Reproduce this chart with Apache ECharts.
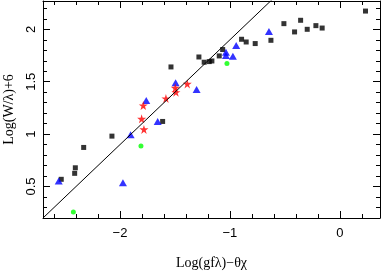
<!DOCTYPE html>
<html><head><meta charset="utf-8">
<script src="https://cdn.jsdelivr.net/npm/echarts@6/dist/echarts.min.js"></script>
<style>html,body{margin:0;padding:0;background:#fff}#c{width:382px;height:273px}</style>
</head><body><div id="c"></div>
<script>
// Data
const blackSquares = [[-2.534,0.569],[-2.406,0.679],[-2.412,0.626],[-2.33,0.873],[-2.073,0.981],[-1.612,1.121],[-1.536,1.641],[-1.282,1.736],[-1.234,1.686],[-1.188,1.692],[-1.164,1.698],[-1.097,1.746],[-1.066,1.807],[-0.894,1.905],[-0.852,1.879],[-0.770,1.864],[-0.627,1.895],[-0.509,2.054],[-0.412,1.975],[-0.357,2.086],[-0.297,2.0],[-0.218,2.035],[-0.161,2.012],[0.233,2.174]];
const blueTriangles = [[-2.557,0.552],[-1.973,0.536],[-1.903,0.993],[-1.761,1.321],[-1.657,1.121],[-1.494,1.489],[-1.303,1.426],[-1.036,1.781],[-1.036,1.749],[-0.973,1.743],[-0.943,1.845],[-0.645,1.978]];
const redStars = [[-1.782,1.045],[-1.803,1.146],[-1.788,1.273],[-1.582,1.340],[-1.497,1.441],[-1.491,1.400],[-1.388,1.479]];
const greenDots = [[-2.424,0.257],[-1.809,0.886],[-1.027,1.673]];
const fitSlope = 1.0;
const fitIntercept = 2.9;

const xMin = -2.7, xMax = 0.365, yMin = 0.2, yMax = 2.27;
const xMajorLabels = [-2, -1, 0];
const yMajorLabels = [0.5, 1, 1.5, 2];
// tick start values and steps
const xMajorStart = -2, xMajorStep = 1, xMinorStart = -2.6, xMinorStep = 0.2;
const yMajorStart = 0.5, yMajorStep = 0.5, yMinorStart = 0.3, yMinorStep = 0.1;

const fitX = [xMin, -0.5];
const fitLine = fitX.map(x => [x, fitSlope * x + fitIntercept]);

const starPath = 'path://M50,0 L61.8,36.2 L100,36.2 L69.1,58.6 L80.9,95.1 L50,72.7 L19.1,95.1 L30.9,58.6 L0,36.2 L38.2,36.2 Z';

const tickFont = {fontFamily: 'Liberation Sans, Arial, sans-serif', fontSize: 13, color: '#000'};
const nameFont = {fontFamily: 'Liberation Serif, Times New Roman, serif', fontSize: 14, color: '#000'};

const W = 382, H = 273;
const G = {left: 43, right: 2, top: 1, bottom: 55, containLabel: false, outerBoundsMode: 'none'};
const pxX = (W - G.left - G.right) / (xMax - xMin);
const pxY = (H - G.top - G.bottom) / (yMax - yMin);

const lineStyle = {color: '#000', width: 1};
const hiddenAx = (grid, min, max) => ({type: 'value', gridIndex: grid, min: min, max: max, show: false});

function tickX(grid, pos, start, step, len) {
  return {type: 'value', gridIndex: grid, position: pos, min: start, max: xMax, interval: step,
    axisLine: {show: false, onZero: false}, axisLabel: {show: false}, splitLine: {show: false},
    axisTick: {show: true, inside: true, length: len, lineStyle: lineStyle}};
}
function tickY(grid, pos, start, step, len) {
  return {type: 'value', gridIndex: grid, position: pos, min: start, max: yMax, interval: step,
    axisLine: {show: false, onZero: false}, axisLabel: {show: false}, splitLine: {show: false},
    axisTick: {show: true, inside: true, length: len, lineStyle: lineStyle}};
}

const grids = [
  Object.assign({}, G),
  Object.assign({}, G, {left: G.left + (xMajorStart - xMin) * pxX}),
  Object.assign({}, G, {left: G.left + (xMinorStart - xMin) * pxX}),
  Object.assign({}, G, {bottom: G.bottom + (yMajorStart - yMin) * pxY}),
  Object.assign({}, G, {bottom: G.bottom + (yMinorStart - yMin) * pxY})
];

const chart = echarts.init(document.getElementById('c'), null, {renderer: 'canvas'});
chart.setOption({
  animation: false,
  backgroundColor: '#fff',
  grid: grids,
  xAxis: [
    {type: 'value', gridIndex: 0, position: 'bottom', min: xMin, max: xMax,
     axisLine: {show: true, onZero: false, lineStyle: lineStyle}, axisTick: {show: false}, splitLine: {show: false},
     axisLabel: Object.assign({show: true, customValues: xMajorLabels, margin: 9,
       formatter: v => (v < 0 ? '\u2212' + Math.abs(v) : String(v))}, tickFont),
     name: 'Log(gf\u03bb)\u2212\u03b8\u03c7', nameLocation: 'middle', nameGap: 38, nameTextStyle: nameFont},
    {type: 'value', gridIndex: 0, position: 'top', min: xMin, max: xMax,
     axisLine: {show: true, onZero: false, lineStyle: lineStyle}, axisTick: {show: false}, axisLabel: {show: false}, splitLine: {show: false}},
    tickX(1, 'bottom', xMajorStart, xMajorStep, 7),
    tickX(1, 'top', xMajorStart, xMajorStep, 7),
    tickX(2, 'bottom', xMinorStart, xMinorStep, 4),
    tickX(2, 'top', xMinorStart, xMinorStep, 4),
    hiddenAx(3, xMin, xMax),
    hiddenAx(4, xMin, xMax)
  ],
  yAxis: [
    {type: 'value', gridIndex: 0, position: 'left', min: yMin, max: yMax,
     axisLine: {show: true, onZero: false, lineStyle: lineStyle}, axisTick: {show: false}, splitLine: {show: false},
     axisLabel: Object.assign({show: true, customValues: yMajorLabels, rotate: 90, margin: 5,
       formatter: v => String(v)}, tickFont),
     name: 'Log(W/\u03bb)+6', nameLocation: 'middle', nameGap: 27, nameRotate: 90, nameTextStyle: nameFont},
    {type: 'value', gridIndex: 0, position: 'right', min: yMin, max: yMax,
     axisLine: {show: true, onZero: false, lineStyle: lineStyle}, axisTick: {show: false}, axisLabel: {show: false}, splitLine: {show: false}},
    hiddenAx(1, yMin, yMax),
    hiddenAx(2, yMin, yMax),
    tickY(3, 'left', yMajorStart, yMajorStep, 7),
    tickY(3, 'right', yMajorStart, yMajorStep, 7),
    tickY(4, 'left', yMinorStart, yMinorStep, 4),
    tickY(4, 'right', yMinorStart, yMinorStep, 4)
  ],
  series: [
    {type: 'line', data: fitLine, xAxisIndex: 0, yAxisIndex: 0, symbol: 'none', clip: true,
     lineStyle: {color: '#000', width: 1}},
    {type: 'scatter', data: blackSquares, xAxisIndex: 0, yAxisIndex: 0, symbol: 'rect', symbolSize: 5, itemStyle: {color: '#000'}},
    {type: 'scatter', data: blueTriangles, xAxisIndex: 0, yAxisIndex: 0, symbol: 'triangle', symbolSize: [8, 7], itemStyle: {color: '#0000ff'}},
    {type: 'scatter', data: redStars, xAxisIndex: 0, yAxisIndex: 0, symbol: starPath, symbolSize: 9, itemStyle: {color: '#ff0000'}},
    {type: 'scatter', data: greenDots, xAxisIndex: 0, yAxisIndex: 0, symbol: 'circle', symbolSize: 5, itemStyle: {color: '#00ff00'}}
  ]
});
</script></body></html>
